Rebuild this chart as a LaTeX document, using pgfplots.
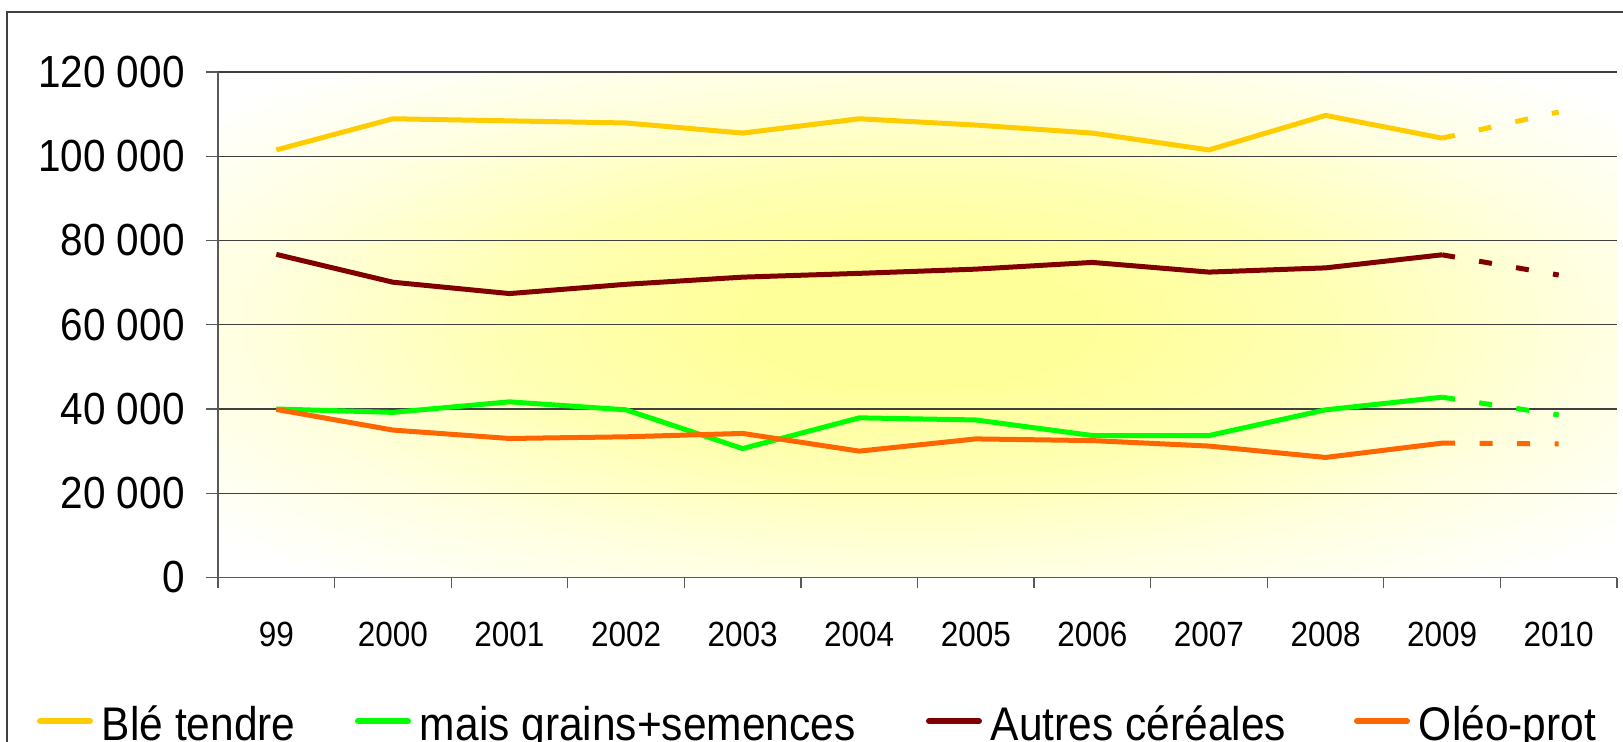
\documentclass[border=0pt]{standalone}
\usepackage{fontspec}
\setmainfont{Liberation Sans}[FakeStretch=0.9]
\usepackage{pgfplots}
\pgfplotsset{compat=1.18}
\definecolor{ble}{HTML}{FFCC00}
\definecolor{mais}{HTML}{00FF00}
\definecolor{autres}{HTML}{800000}
\definecolor{oleo}{HTML}{FF6600}
\definecolor{yc}{HTML}{FFFF99}
\definecolor{yc2}{HTML}{FFFFB4}
\definecolor{yc3}{HTML}{FFFFE0}
\pgfdeclareradialshading{yel}{\pgfpoint{0bp}{0bp}}{color(0bp)=(yc); color(6bp)=(yc); color(15bp)=(yc2); color(24bp)=(yc3); color(33bp)=(white); color(50bp)=(white)}
\begin{document}
\begin{tikzpicture}
\path[use as bounding box] (0,0) rectangle (811.5bp,371bp);
\clip (0,0) rectangle (811.5bp,371bp);
\draw[line width=0.75bp, black!75] (3.5bp,-10bp) -- (3.5bp,365bp) -- (830bp,365bp);
\begin{axis}[
  at={(109bp,82.25bp)}, anchor=south west,
  width=699.5bp, height=252.75bp, scale only axis,
  xmin=-0.5, xmax=11.5, ymin=0, ymax=120000,
  scaled y ticks=false,
  axis lines*=left,
  axis line style={black!65, line width=0.6bp},
  ytick={0,20000,40000,60000,80000,100000,120000},
  yticklabels={0,20 000,40 000,60 000,80 000,100 000,120 000},
  ymajorgrids, major grid style={black!75, line width=0.6bp},
  xtick={0,1,2,3,4,5,6,7,8,9,10,11},
  xticklabels={99,2000,2001,2002,2003,2004,2005,2006,2007,2008,2009,2010},
  minor xtick={-0.5,0.5,1.5,2.5,3.5,4.5,5.5,6.5,7.5,8.5,9.5,10.5,11.5},
  tick align=outside,
  major tick length=6bp,
  minor tick length=5bp,
  major x tick style={draw=none},
  tick style={black!65, line width=0.6bp},
  yticklabel style={font=\fontsize{22.5bp}{26bp}\selectfont, inner sep=0pt, xshift=-10.5bp},
  xticklabel style={font=\fontsize{17.5bp}{20bp}\selectfont, inner sep=0pt, anchor=north, yshift=-16.25bp},
  axis background/.style={shade, shading=yel},
  legend columns=4,
  legend style={draw=none, fill=none, inner sep=0pt, outer sep=0pt,
    font=\fontsize{23.6bp}{27bp}\selectfont,
    at={(-0.12938,-0.3215)}, anchor=south west,
    cells={anchor=base west},
    nodes={inner sep=0pt, outer sep=0pt, text depth=0pt},
    /tikz/every odd column/.style={column sep=4.5bp}},
  legend image code/.code={\path[draw=none, fill=none] (0,0) -- (28bp,0); \draw[#1, line width=3bp, line cap=round, solid] (1.5bp,9.5bp) -- (26.5bp,9.5bp);},
  every axis plot/.append style={line width=2.5bp, line join=round},
]
\addplot[ble] coordinates {(0,101500) (1,108900) (2,108400) (3,107900) (4,105500) (5,108900) (6,107400) (7,105500) (8,101500) (9,109700) (10,104300)};
\addlegendentry{\makebox[126.5bp][l]{Blé tendre}}
\addplot[mais] coordinates {(0,40000) (1,39200) (2,41700) (3,39800) (4,30600) (5,37900) (6,37400) (7,33700) (8,33700) (9,39800) (10,42800)};
\addlegendentry{\makebox[253bp][l]{mais grains+semences}}
\addplot[autres] coordinates {(0,76700) (1,70100) (2,67400) (3,69600) (4,71300) (5,72200) (6,73200) (7,74800) (8,72500) (9,73500) (10,76600)};
\addlegendentry{\makebox[181.5bp][l]{Autres céréales}}
\addplot[oleo] coordinates {(0,39900) (1,35000) (2,33000) (3,33400) (4,34200) (5,30000) (6,32900) (7,32500) (8,31200) (9,28500) (10,31900)};
\addlegendentry{Oléo-prot}
\addplot[ble, forget plot, line cap=butt, dash pattern=on 6.5bp off 12.25bp] coordinates {(10,104300) (11,110500)};
\addplot[mais, forget plot, line cap=butt, dash pattern=on 6.5bp off 12.25bp] coordinates {(10,42800) (11,38600)};
\addplot[autres, forget plot, line cap=butt, dash pattern=on 6.5bp off 12.25bp] coordinates {(10,76600) (11,71800)};
\addplot[oleo, forget plot, line cap=butt, dash pattern=on 6.5bp off 12.25bp] coordinates {(10,31900) (11,31700)};
\end{axis}
\end{tikzpicture}
\end{document}
